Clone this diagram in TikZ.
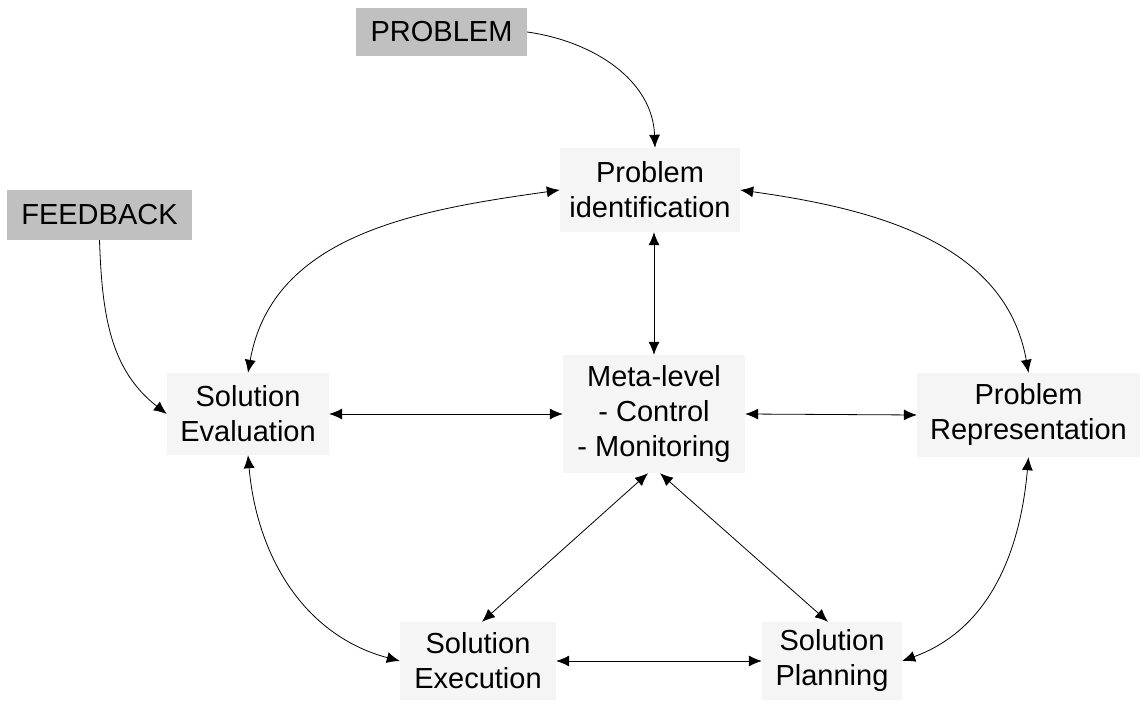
\documentclass[tikz,border=0pt]{standalone}
\usepackage{fontspec}
\setmainfont{Liberation Sans}
\usetikzlibrary{arrows.meta}
\definecolor{stagefill}{RGB}{245,245,245}
\definecolor{inputfill}{RGB}{192,192,192}
\tikzset{
  stage/.style={fill=stagefill, inner sep=0pt, align=center,
                font=\fontsize{29}{35}\selectfont},
  inputbox/.style={fill=inputfill, inner sep=0pt, align=center,
                font=\fontsize{29}{35}\selectfont},
  link/.style={line width=0.8pt, black},
  >={Latex[length=13pt,width=11pt]}
}
\begin{document}
\begin{tikzpicture}[x=1pt,y=1pt]
\useasboundingbox (0,0) rectangle (1143,702);

% external inputs
\node[inputbox, minimum width=171pt, minimum height=48pt] (prob) at (441.5,670) {PROBLEM};
\node[inputbox, minimum width=185pt, minimum height=50pt] (feed) at (99.5,487) {FEEDBACK};

% problem-solving stages
\node[stage, minimum width=180pt, minimum height=84pt] (ident) at (650,512) {Problem\\identification};
\node[stage, minimum width=162pt, minimum height=82pt] (eval) at (248,288) {Solution\\Evaluation};
\node[stage, minimum width=182pt, minimum height=118pt] (meta) at (654,288) {Meta-level\\- Control\\- Monitoring};
\node[stage, minimum width=223pt, minimum height=84pt] (repr) at (1028.5,287) {Problem\\Representation};
\node[stage, minimum width=156pt, minimum height=78pt] (exec) at (478,41) {Solution\\Execution};
\node[stage, minimum width=140pt, minimum height=78pt] (plan) at (832,41) {Solution\\Planning};

% inputs
\draw[link,->] (prob.east) to[out=-8,in=92] ([xshift=5pt]ident.north);
\draw[link,->] (feed.south) to[out=-88,in=142] (eval.west);

% outer cycle
\draw[link,<->] (eval.north) to[out=80,in=-172] (ident.west);
\draw[link,<->] (ident.east) to[out=-8,in=100] (repr.north);
\draw[link,<->] (repr.south) to[out=-95,in=20] (plan.east);
\draw[link,<->] (exec.east) -- (plan.west);
\draw[link,<->] (eval.south) to[out=-85,in=165] (exec.west);

% links to the meta-level
\draw[link,<->] (ident.south -| meta.north) -- (meta.north);
\draw[link,<->] (eval.east) -- (meta.west);
\draw[link,<->] (meta.east) -- (repr.west);
\draw[link,<->] ([xshift=-6pt]meta.south) -- ([xshift=4pt]exec.north);
\draw[link,<->] ([xshift=6pt]meta.south) -- ([xshift=-4pt]plan.north);
\end{tikzpicture}
\end{document}
